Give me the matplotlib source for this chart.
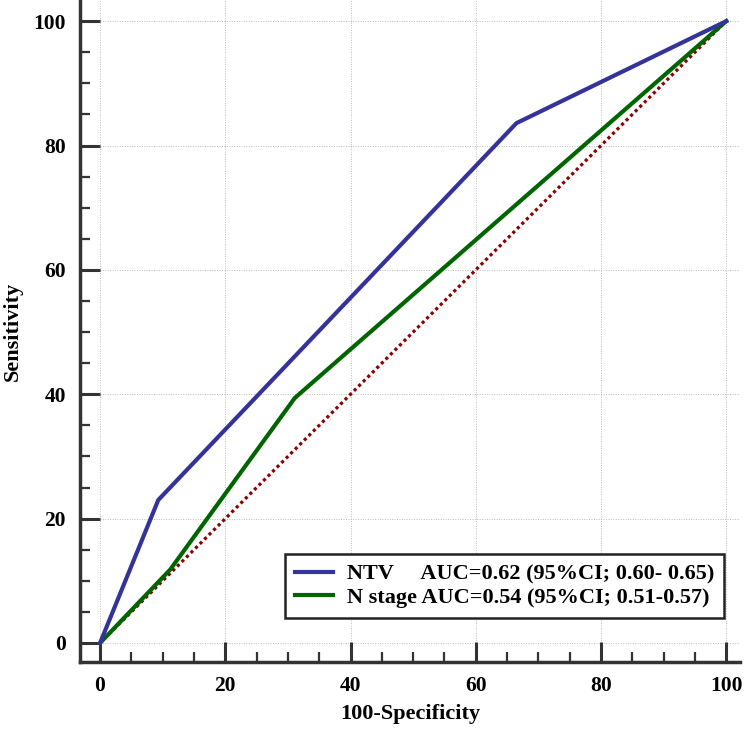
import matplotlib.pyplot as plt
import numpy as np

plt.rcParams['font.family'] = ['Liberation Serif', 'DejaVu Serif']
plt.rcParams['font.weight'] = 'bold'

# ROC points (100-Specificity, Sensitivity)
ntv_x = [0, 9.3, 66.5, 100]
ntv_y = [0, 23.0, 83.6, 100]
nst_x = [0, 11.2, 31.1, 100]
nst_y = [0, 11.8, 39.4, 100]
diag = [0, 100]

ntv_label = "NTV     AUC=0.62 (95%CI; 0.60- 0.65)"
nst_label = "N stage AUC=0.54 (95%CI; 0.51-0.57)"
ticks = [0, 20, 40, 60, 80, 100]

fig = plt.figure(figsize=(7.45, 7.30), dpi=100)
ax = fig.add_axes([0.1074, 0.0932, 0.8859, 0.9068])
ax.set_xlim(-3.2, 102.2)
ax.set_ylim(-3.05, 103.4)

# grid only over data range
ax.vlines(ticks, 0, 103.4, colors='#bbbbbb', linestyles=(0, (1, 1.5)), linewidth=0.7, zorder=0)
ax.hlines(ticks, 0, 102.2, colors='#bbbbbb', linestyles=(0, (1, 1.5)), linewidth=0.7, zorder=0)

ax.plot(diag, diag, color='#8b0000', linestyle=(0, (1, 1)), linewidth=2.3, zorder=2)
ax.plot(nst_x, nst_y, color='#006400', linewidth=3, label=nst_label, zorder=3)
ax.plot(ntv_x, ntv_y, color='#33339a', linewidth=3, label=ntv_label, zorder=4)

for s in ['top', 'right']:
    ax.spines[s].set_visible(False)
for s in ['left', 'bottom']:
    ax.spines[s].set_linewidth(2.5)
    ax.spines[s].set_color('#333333')

ax.set_xticks(ticks)
ax.set_yticks(ticks)
ax.set_xticks(np.arange(0, 101, 5), minor=True)
ax.set_yticks(np.arange(0, 101, 5), minor=True)
ax.tick_params(which='major', direction='in', length=14.5, width=2.2, color='#333333',
               labelsize=15.5, pad=10)
ax.tick_params(which='minor', direction='in', length=7, width=1.6, color='#333333')
for lab in ax.get_xticklabels() + ax.get_yticklabels():
    lab.set_fontweight('bold')

ax.set_xlabel('100-Specificity', fontsize=16, fontweight='bold', labelpad=6)
ax.set_ylabel('Sensitivity', fontsize=16, fontweight='bold', labelpad=8)

handles, labels = ax.get_legend_handles_labels()
leg = ax.legend(handles[::-1], labels[::-1], loc='lower right', bbox_to_anchor=(0.976, 0.066),
                borderaxespad=0, frameon=True, fancybox=False, edgecolor='#222222',
                framealpha=1, handlelength=1.75, borderpad=0.45, labelspacing=0.15,
                handletextpad=0.6, prop={'weight': 'bold', 'size': 16})
leg.get_frame().set_linewidth(1.8)
leg.set_zorder(5)

plt.savefig('out.png', dpi=100)
